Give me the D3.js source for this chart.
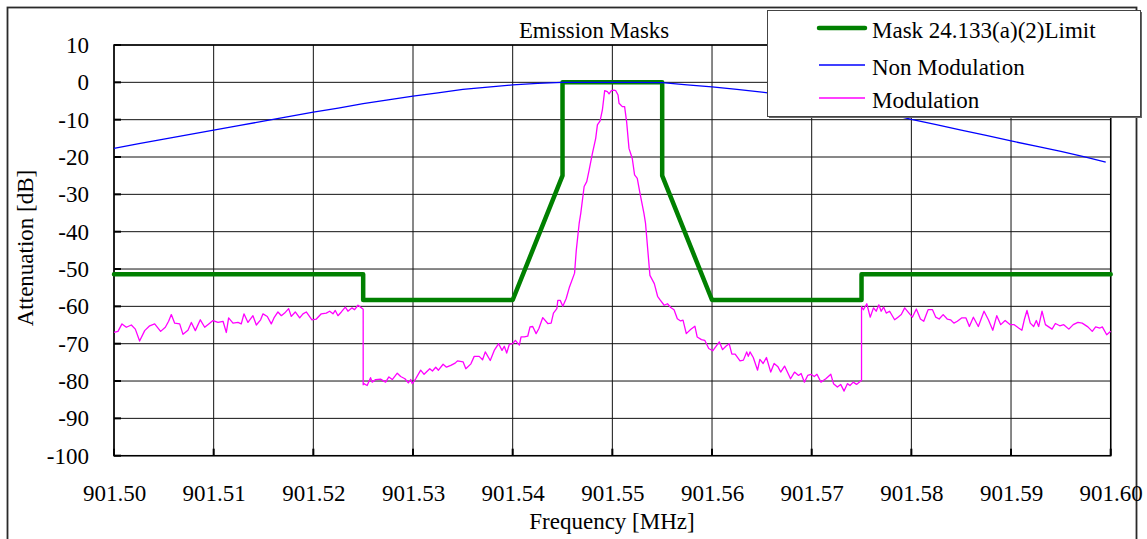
<!DOCTYPE html>
<html>
<head>
<meta charset="utf-8">
<script src="https://cdn.jsdelivr.net/npm/d3@7/dist/d3.min.js"></script>
<style>
  html, body { margin: 0; padding: 0; background: #fff; }
  svg { display: block; }
  text { font-family: "Liberation Serif", "Times New Roman", serif; fill: #000; }
</style>
</head>
<body>
<svg id="chart" width="1147" height="539"></svg>
<script>
// Axis ticks
const xTicks = [901.50, 901.51, 901.52, 901.53, 901.54, 901.55, 901.56, 901.57, 901.58, 901.59, 901.60];
const yTicks = [10, 0, -10, -20, -30, -40, -50, -60, -70, -80, -90, -100];

// Emission mask limit (MHz, dB)
const maskFreq = [901.500, 901.525, 901.525, 901.540, 901.545, 901.545, 901.555, 901.555, 901.560, 901.575, 901.575, 901.600];
const maskDb   = [-51.4, -51.4, -58.3, -58.3, -25.0, 0.0, 0.0, -25.0, -58.3, -58.3, -51.4, -51.4];

// Unmodulated carrier (MHz, dB)
const nonModFreq = [901.5000, 901.5025, 901.5050, 901.5075, 901.5100, 901.5125, 901.5150, 901.5175, 901.5200, 901.5225,
                    901.5250, 901.5275, 901.5300, 901.5325, 901.5350, 901.5375, 901.5400, 901.5425, 901.5450, 901.5475,
                    901.5500, 901.5525, 901.5550, 901.5575, 901.5600, 901.5625, 901.5650, 901.5675, 901.5700, 901.5725,
                    901.5750, 901.5775, 901.5800, 901.5825, 901.5850, 901.5875, 901.5900, 901.5925, 901.5950, 901.5975, 901.5995];
const nonModDb   = [-17.7, -16.4, -15.2, -14.0, -12.8, -11.6, -10.4, -9.2, -8.0, -6.9,
                    -5.7, -4.7, -3.7, -2.8, -1.9, -1.3, -0.7, -0.3, 0.0, 0.0,
                    0.0, 0.0, -0.1, -0.7, -1.2, -1.9, -2.6, -3.5, -4.5, -5.7,
                    -6.9, -8.3, -9.9, -11.3, -12.8, -14.2, -15.7, -17.1, -18.5, -20.0, -21.4];

// Modulated spectrum (MHz, dB)
const modFreq = [
  901.50000, 901.50040, 901.50080, 901.50124, 901.50174, 901.50214, 901.50257, 901.50308, 901.50358, 901.50408,
  901.50468, 901.50515, 901.50548, 901.50575, 901.50609, 901.50659, 901.50692, 901.50742, 901.50776, 901.50816,
  901.50866, 901.50910, 901.50960, 901.50993, 901.51043, 901.51094, 901.51127, 901.51150, 901.51194, 901.51244,
  901.51277, 901.51304, 901.51344, 901.51394, 901.51428, 901.51471, 901.51495, 901.51538, 901.51578, 901.51605,
  901.51645, 901.51679, 901.51712, 901.51752, 901.51779, 901.51819, 901.51863, 901.51896, 901.51929, 901.51986,
  901.52030, 901.52080, 901.52130, 901.52164, 901.52197, 901.52220, 901.52247, 901.52281, 901.52321, 901.52347,
  901.52388, 901.52414, 901.52448, 901.52491, 901.52500, 901.52500,
  901.52507, 901.52540, 901.52574, 901.52591, 901.52624, 901.52674, 901.52725, 901.52758, 901.52792, 901.52842,
  901.52876, 901.52919, 901.52953, 901.52977, 901.52993, 901.53027, 901.53077, 901.53111, 901.53168, 901.53195,
  901.53228, 901.53255, 901.53302, 901.53336, 901.53379, 901.53423, 901.53446, 901.53503, 901.53530, 901.53581,
  901.53614, 901.53664, 901.53698, 901.53725, 901.53775, 901.53815, 901.53859, 901.53893, 901.53916, 901.53940,
  901.53966, 901.54000, 901.54027, 901.54067, 901.54084, 901.54117, 901.54151, 901.54174, 901.54201, 901.54235,
  901.54262, 901.54302, 901.54352, 901.54386, 901.54409, 901.54443, 901.54453, 901.54477, 901.54503, 901.54537,
  901.54570, 901.54621, 901.54638, 901.54667, 901.54683, 901.54717, 901.54743, 901.54767, 901.54800, 901.54833,
  901.54850, 901.54877, 901.54900, 901.54923, 901.54950, 901.54967, 901.54990, 901.55017, 901.55033, 901.55057,
  901.55067, 901.55100, 901.55123, 901.55143, 901.55167, 901.55200, 901.55223, 901.55250, 901.55277, 901.55317,
  901.55333, 901.55377, 901.55421, 901.55454, 901.55477, 901.55520, 901.55553, 901.55586, 901.55619, 901.55652,
  901.55685, 901.55709, 901.55742, 901.55785, 901.55828, 901.55851, 901.55894, 901.55927, 901.55967, 901.56007,
  901.56040, 901.56073, 901.56106, 901.56139, 901.56172, 901.56199, 901.56232, 901.56281, 901.56315, 901.56348,
  901.56364, 901.56381, 901.56414, 901.56457, 901.56480, 901.56513, 901.56546, 901.56589, 901.56623, 901.56662,
  901.56689, 901.56728, 901.56788, 901.56828, 901.56868, 901.56894, 901.56927, 901.56960, 901.56993, 901.57026,
  901.57053, 901.57093, 901.57142, 901.57192, 901.57219, 901.57258, 901.57291, 901.57325, 901.57358, 901.57384,
  901.57417, 901.57450, 901.57500, 901.57500,
  901.57519, 901.57553, 901.57587, 901.57620, 901.57647, 901.57674, 901.57697, 901.57721, 901.57748, 901.57782,
  901.57832, 901.57866, 901.57899, 901.57933, 901.57976, 901.58010, 901.58050, 901.58091, 901.58124, 901.58168,
  901.58212, 901.58245, 901.58279, 901.58319, 901.58360, 901.58393, 901.58427, 901.58461, 901.58504, 901.58548,
  901.58582, 901.58622, 901.58672, 901.58729, 901.58773, 901.58817, 901.58857, 901.58897, 901.58941, 901.58992,
  901.59032, 901.59076, 901.59109, 901.59133, 901.59160, 901.59193, 901.59227, 901.59254, 901.59277, 901.59311,
  901.59345, 901.59378, 901.59412, 901.59445, 901.59489, 901.59529, 901.59580, 901.59624, 901.59671, 901.59714,
  901.59771, 901.59815, 901.59849, 901.59892, 901.59916, 901.59960, 901.60000
];
const modDb = [
  -67.0, -66.7, -64.7, -65.6, -65.0, -66.1, -69.3, -66.5, -65.2, -64.7,
  -66.7, -65.6, -64.0, -62.2, -64.5, -64.7, -67.5, -66.4, -64.3, -66.5,
  -63.6, -65.6, -64.5, -63.8, -64.3, -64.0, -67.0, -63.1, -64.5, -64.3,
  -64.7, -62.0, -64.3, -62.5, -65.0, -63.6, -62.0, -62.7, -64.7, -63.1,
  -61.5, -62.5, -61.8, -60.6, -62.7, -61.5, -63.1, -62.0, -61.5, -63.6,
  -63.4, -62.0, -61.8, -61.3, -62.0, -61.1, -62.5, -61.5, -60.2, -61.3,
  -60.4, -60.9, -59.7, -60.6, -60.8, -81.0,
  -80.7, -81.2, -79.1, -80.3, -79.6, -79.5, -80.3, -78.9, -79.6, -77.9,
  -78.8, -79.4, -80.5, -79.6, -80.7, -79.4, -77.1, -78.2, -76.7, -77.3,
  -76.3, -77.1, -75.5, -76.3, -75.8, -75.2, -74.6, -74.9, -76.7, -75.4,
  -73.4, -73.4, -74.3, -72.2, -74.5, -71.8, -70.0, -71.8, -70.7, -72.5,
  -70.2, -70.0, -69.1, -70.4, -68.2, -68.2, -68.0, -65.5, -65.4, -67.3,
  -66.0, -63.0, -64.6, -64.5, -61.8, -60.6, -58.4, -58.4, -60.0, -57.9,
  -54.8, -51.1, -45.0, -37.8, -35.1, -27.9, -26.6, -23.5, -19.0, -15.0,
  -11.4, -10.3, -7.4, -2.2, -2.5, -3.1, -2.2, -2.1, -2.2, -3.4,
  -5.6, -6.5, -6.5, -10.5, -17.7, -20.4, -24.8, -25.7, -29.7, -35.1,
  -37.8, -51.7, -53.9, -57.3, -58.2, -59.7, -59.3, -60.3, -60.9, -63.3,
  -63.9, -63.7, -67.3, -66.2, -65.3, -68.2, -68.9, -69.1, -71.3, -71.9,
  -70.7, -69.5, -71.6, -70.7, -70.0, -72.8, -72.8, -74.6, -74.4, -72.2,
  -73.4, -72.2, -73.7, -77.1, -74.2, -75.3, -73.7, -77.6, -75.3, -76.2,
  -77.6, -76.0, -79.4, -77.6, -78.5, -78.0, -80.3, -78.5, -78.2, -78.8,
  -78.2, -80.3, -79.4, -78.2, -80.7, -81.6, -80.9, -82.7, -80.7, -81.2,
  -80.3, -80.9, -79.8, -60.1,
  -60.9, -59.3, -62.9, -60.4, -61.3, -59.6, -61.3, -60.2, -61.8, -61.3,
  -63.6, -62.9, -62.2, -60.4, -61.8, -62.9, -60.7, -63.4, -64.0, -60.9,
  -60.9, -62.9, -63.4, -62.2, -63.4, -63.6, -64.5, -64.0, -63.1, -63.1,
  -65.4, -62.9, -65.4, -61.3, -63.6, -66.4, -62.5, -64.9, -63.8, -64.9,
  -64.9, -65.8, -66.4, -63.6, -61.1, -64.5, -65.4, -63.8, -65.4, -61.3,
  -64.9, -65.5, -66.1, -64.6, -65.2, -64.9, -66.1, -64.9, -64.3, -64.5,
  -65.5, -66.7, -65.5, -65.8, -65.5, -67.6, -66.7
];

const legendLabels = ["Mask 24.133(a)(2)Limit", "Non Modulation", "Modulation"];
const seriesColors = ["#008000", "#0000ff", "#ff00ff"];

const svg = d3.select("#chart");

const x = d3.scaleLinear().domain([901.50, 901.60]).range([114, 1110.7]);
const y = d3.scaleLinear().domain([-100, 10]).range([455.7, 45]);

// outer chart frame
svg.append("rect")
  .attr("x", 7.5).attr("y", 7.5).attr("width", 1129).attr("height", 560)
  .attr("fill", "none").attr("stroke", "#2a2a2a").attr("stroke-width", 1.8);

// grid
const grid = svg.append("g").attr("stroke", "#111").attr("stroke-width", 1);
grid.selectAll("line.h").data(yTicks).join("line")
  .attr("x1", x(901.50)).attr("x2", x(901.60))
  .attr("y1", d => y(d)).attr("y2", d => y(d));
grid.selectAll("line.v").data(xTicks).join("line")
  .attr("x1", d => x(d)).attr("x2", d => x(d))
  .attr("y1", y(10)).attr("y2", y(-100));

// inner tick marks
svg.append("g").attr("stroke", "#000").attr("stroke-width", 2)
  .selectAll("line").data(yTicks).join("line")
  .attr("x1", x(901.50)).attr("x2", x(901.50) + 7)
  .attr("y1", d => y(d)).attr("y2", d => y(d));
svg.append("g").attr("stroke", "#000").attr("stroke-width", 2)
  .selectAll("line").data(xTicks).join("line")
  .attr("x1", d => x(d)).attr("x2", d => x(d))
  .attr("y1", y(-100)).attr("y2", y(-100) - 7);

// plot border
svg.append("rect")
  .attr("x", x(901.50)).attr("y", y(10))
  .attr("width", x(901.60) - x(901.50)).attr("height", y(-100) - y(10))
  .attr("fill", "none").attr("stroke", "#000").attr("stroke-width", 1.5);

// axes labels via d3 axes
const yAxis = d3.axisLeft(y).tickValues(yTicks).tickFormat(d => String(d)).tickSize(0).tickPadding(25);
svg.append("g").attr("transform", `translate(${x(901.50)},0)`).call(yAxis)
  .call(g => g.select(".domain").remove())
  .call(g => g.selectAll("text").attr("font-size", 23).attr("font-family", "Liberation Serif, serif").attr("fill", "#000"));

const xAxis = d3.axisBottom(x).tickValues(xTicks).tickFormat(d3.format(".2f")).tickSize(0).tickPadding(29);
svg.append("g").attr("transform", `translate(0,${y(-100)})`).call(xAxis)
  .call(g => g.select(".domain").remove())
  .call(g => g.selectAll("text").attr("font-size", 23).attr("font-family", "Liberation Serif, serif").attr("fill", "#000"));

// series
const line = d3.line().x(d => x(d[0])).y(d => y(d[1]));
const maskData = d3.zip(maskFreq, maskDb);
const nonModData = d3.zip(nonModFreq, nonModDb);
const modData = d3.zip(modFreq, modDb);

svg.append("path").datum(maskData).attr("d", line)
  .attr("fill", "none").attr("stroke", seriesColors[0]).attr("stroke-width", 4.5)
  .attr("stroke-linejoin", "round").attr("stroke-linecap", "round");
svg.append("path").datum(nonModData).attr("d", line)
  .attr("fill", "none").attr("stroke", seriesColors[1]).attr("stroke-width", 1.3);
svg.append("path").datum(modData).attr("d", line)
  .attr("fill", "none").attr("stroke", seriesColors[2]).attr("stroke-width", 1.3)
  .attr("stroke-linejoin", "round");

// title
svg.append("text").attr("x", 594).attr("y", 38).attr("text-anchor", "middle")
  .attr("font-size", 22.8).text("Emission Masks");

// axis titles
svg.append("text").attr("transform", "translate(33,248) rotate(-90)")
  .attr("text-anchor", "middle").attr("font-size", 23).text("Attenuation [dB]");
svg.append("text").attr("x", 612).attr("y", 529).attr("text-anchor", "middle")
  .attr("font-size", 23).text("Frequency [MHz]");

// legend
const lg = svg.append("g");
lg.append("rect").attr("x", 769).attr("y", 12).attr("width", 373).attr("height", 106).attr("fill", "#666");
lg.append("rect").attr("x", 767.5).attr("y", 10.5).attr("width", 373).attr("height", 106)
  .attr("fill", "#fff").attr("stroke", "#444").attr("stroke-width", 1);
const rowsY = [28, 65, 98];
const widths = [4.5, 1.3, 1.3];
legendLabels.forEach((lab, i) => {
  lg.append("line").attr("x1", 819).attr("x2", 865).attr("y1", rowsY[i]).attr("y2", rowsY[i])
    .attr("stroke", seriesColors[i]).attr("stroke-width", widths[i]).attr("stroke-linecap", i === 0 ? "round" : "butt");
  lg.append("text").attr("x", 872).attr("y", rowsY[i] + 9.5).attr("font-size", 23).text(lab);
});
</script>
</body>
</html>
